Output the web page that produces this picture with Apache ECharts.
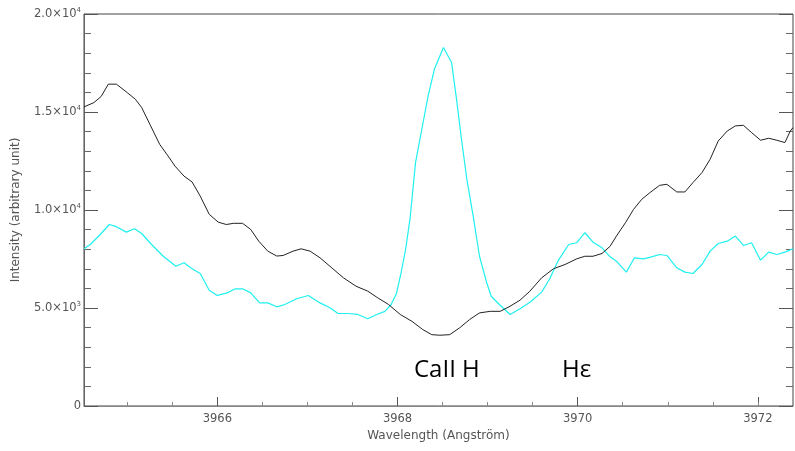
<!DOCTYPE html>
<html>
<head>
<meta charset="utf-8">
<script src="https://cdn.jsdelivr.net/npm/echarts@6/dist/echarts.min.js"></script>
<style>html,body{margin:0;padding:0;background:#fff}#c{width:795px;height:451px}</style>
</head>
<body>
<div id="c"></div>
<script>
// Wavelength (Å) and intensity
const blackWave = [3964.52,3964.63,3964.71,3964.79,3964.88,3965.00,3965.09,3965.16,3965.26,3965.36,3965.44,3965.53,3965.63,3965.72,3965.81,3965.91,3966.01,3966.10,3966.18,3966.28,3966.37,3966.46,3966.56,3966.66,3966.73,3966.84,3966.93,3967.03,3967.14,3967.27,3967.40,3967.54,3967.67,3967.78,3967.90,3968.03,3968.16,3968.28,3968.38,3968.47,3968.58,3968.69,3968.80,3968.91,3969.03,3969.14,3969.25,3969.36,3969.47,3969.60,3969.73,3969.86,3969.99,3970.08,3970.17,3970.27,3970.36,3970.43,3970.53,3970.62,3970.71,3970.80,3970.91,3970.99,3971.10,3971.19,3971.28,3971.38,3971.47,3971.56,3971.66,3971.75,3971.84,3971.93,3972.03,3972.12,3972.21,3972.30,3972.36,3972.39];
const blackInt = [15260,15480,15790,16420,16420,15990,15650,15230,14290,13350,12840,12240,11730,11430,10710,9780,9380,9260,9320,9320,9010,8410,7900,7650,7680,7900,8020,7900,7560,7050,6540,6110,5860,5520,5180,4670,4320,3900,3640,3610,3640,3990,4410,4750,4830,4830,5090,5400,5860,6540,7000,7220,7510,7640,7640,7780,8150,8670,9350,10030,10540,10880,11260,11310,10920,10920,11400,11910,12590,13520,14030,14290,14320,13950,13560,13660,13560,13440,14030,14200];

const cyanWave = [3964.52,3964.59,3964.70,3964.80,3964.88,3964.99,3965.08,3965.16,3965.27,3965.40,3965.54,3965.63,3965.72,3965.81,3965.91,3966.00,3966.11,3966.20,3966.28,3966.37,3966.47,3966.56,3966.66,3966.75,3966.88,3967.01,3967.14,3967.25,3967.34,3967.45,3967.56,3967.67,3967.77,3967.86,3967.93,3967.99,3968.04,3968.09,3968.14,3968.20,3968.27,3968.34,3968.41,3968.51,3968.60,3968.66,3968.71,3968.77,3968.84,3968.91,3968.99,3969.04,3969.13,3969.25,3969.36,3969.47,3969.60,3969.69,3969.78,3969.90,3969.99,3970.08,3970.17,3970.27,3970.36,3970.43,3970.54,3970.63,3970.73,3970.82,3970.91,3970.99,3971.10,3971.19,3971.28,3971.38,3971.47,3971.56,3971.66,3971.75,3971.84,3971.93,3972.03,3972.12,3972.21,3972.30,3972.39];
const cyanInt = [8020,8240,8750,9260,9150,8870,9040,8800,8240,7640,7130,7310,7000,6760,5910,5640,5770,5980,5980,5770,5260,5260,5060,5180,5470,5640,5260,5010,4720,4720,4670,4450,4670,4830,5180,5770,6800,7990,9600,12420,14120,15820,17190,18290,17530,15480,13610,11560,9690,7640,6290,5600,5180,4670,4960,5290,5810,6490,7390,8240,8330,8840,8360,8070,7610,7390,6830,7560,7510,7610,7730,7680,7050,6830,6760,7220,7900,8290,8410,8670,8190,8330,7440,7850,7730,7850,8020];

const xLabels = [3966, 3968, 3970, 3972];
const xMinorTicks = [3965, 3965.5, 3966.5, 3967, 3967.5, 3968.5, 3969, 3969.5, 3970.5, 3971, 3971.5, 3972];
const yTicks = [0, 5000, 10000, 15000, 20000];
const yLabelText = {0: '0', 5000: '5.0×10{s|3}', 10000: '1.0×10{s|4}', 15000: '1.5×10{s|4}', 20000: '2.0×10{s|4}'};
const annotations = ['CaII H', 'Hε'];

const zip = (a, b) => a.map((v, i) => [v, b[i]]);
const chart = echarts.init(document.getElementById('c'), null, {renderer: 'canvas'});
const XMIN = 3964.52, XMAX = 3972.39;
const axisCol = '#555';
const labCol = '#555';
const font = 'DejaVu Sans';

chart.setOption({
  backgroundColor: '#fff',
  animation: false,
  grid: {left: 84, right: 2, top: 14, bottom: 45, show: true, borderColor: '#444', borderWidth: 1},
  xAxis: [{
    type: 'value', min: XMIN, max: XMAX, position: 'bottom',
    name: 'Wavelength (Angström)', nameLocation: 'middle', nameGap: 22,
    nameTextStyle: {color: labCol, fontSize: 12, fontFamily: font},
    axisLine: {show: true, lineStyle: {color: '#888'}},
    axisTick: {show: true, inside: true, length: 9, customValues: xLabels, lineStyle: {color: axisCol}},
    axisLabel: {customValues: xLabels, color: labCol, fontSize: 11.5, fontFamily: font, margin: 7, formatter: v => String(Math.round(v))},
    splitLine: {show: false}
  }, {
    type: 'value', min: XMIN, max: XMAX, position: 'bottom',
    axisLine: {show: false},
    axisTick: {show: true, inside: true, length: 4, customValues: xMinorTicks, lineStyle: {color: '#888'}},
    axisLabel: {show: false},
    splitLine: {show: false}
  }],
  yAxis: [{
    type: 'value', min: 0, max: 20000, interval: 5000, position: 'left',
    name: 'Intensity (arbitrary unit)', nameLocation: 'middle', nameGap: 62, nameRotate: 90,
    nameTextStyle: {color: labCol, fontSize: 12, fontFamily: font},
    axisLine: {show: true, lineStyle: {color: '#666'}},
    axisTick: {show: true, inside: true, length: 14, lineStyle: {color: axisCol}},
    minorTick: {show: true, splitNumber: 5, length: 7, lineStyle: {color: '#666'}},
    axisLabel: {color: labCol, fontSize: 11.5, fontFamily: font, margin: 3,
      formatter: v => yLabelText[v] !== undefined ? yLabelText[v] : '',
      rich: {s: {fontSize: 7, verticalAlign: 'top', padding: [0, 0, 7, 0], color: labCol, fontFamily: font}}},
    splitLine: {show: false}
  }, {
    type: 'value', min: 0, max: 20000, interval: 5000, position: 'right',
    axisLine: {show: false},
    axisTick: {show: true, inside: true, length: 14, lineStyle: {color: axisCol}},
    minorTick: {show: true, splitNumber: 5, length: 7, lineStyle: {color: '#666'}},
    axisLabel: {show: false},
    splitLine: {show: false}
  }],
  series: [{
    type: 'line', xAxisIndex: 0, yAxisIndex: 0, data: zip(blackWave, blackInt),
    symbol: 'none', lineStyle: {color: '#222', width: 1}, z: 3
  }, {
    type: 'line', xAxisIndex: 0, yAxisIndex: 0, data: zip(cyanWave, cyanInt),
    symbol: 'none', lineStyle: {color: '#1ef0f0', width: 1.2}, z: 2
  }],
  graphic: [
    {type: 'text', left: 414, top: 358, style: {text: annotations[0], fontSize: 24, fontFamily: 'Open Sans', fill: '#000'}},
    {type: 'text', left: 562, top: 358, style: {text: annotations[1], fontSize: 24, fontFamily: 'Open Sans', fill: '#000'}}
  ]
});
</script>
</body>
</html>
